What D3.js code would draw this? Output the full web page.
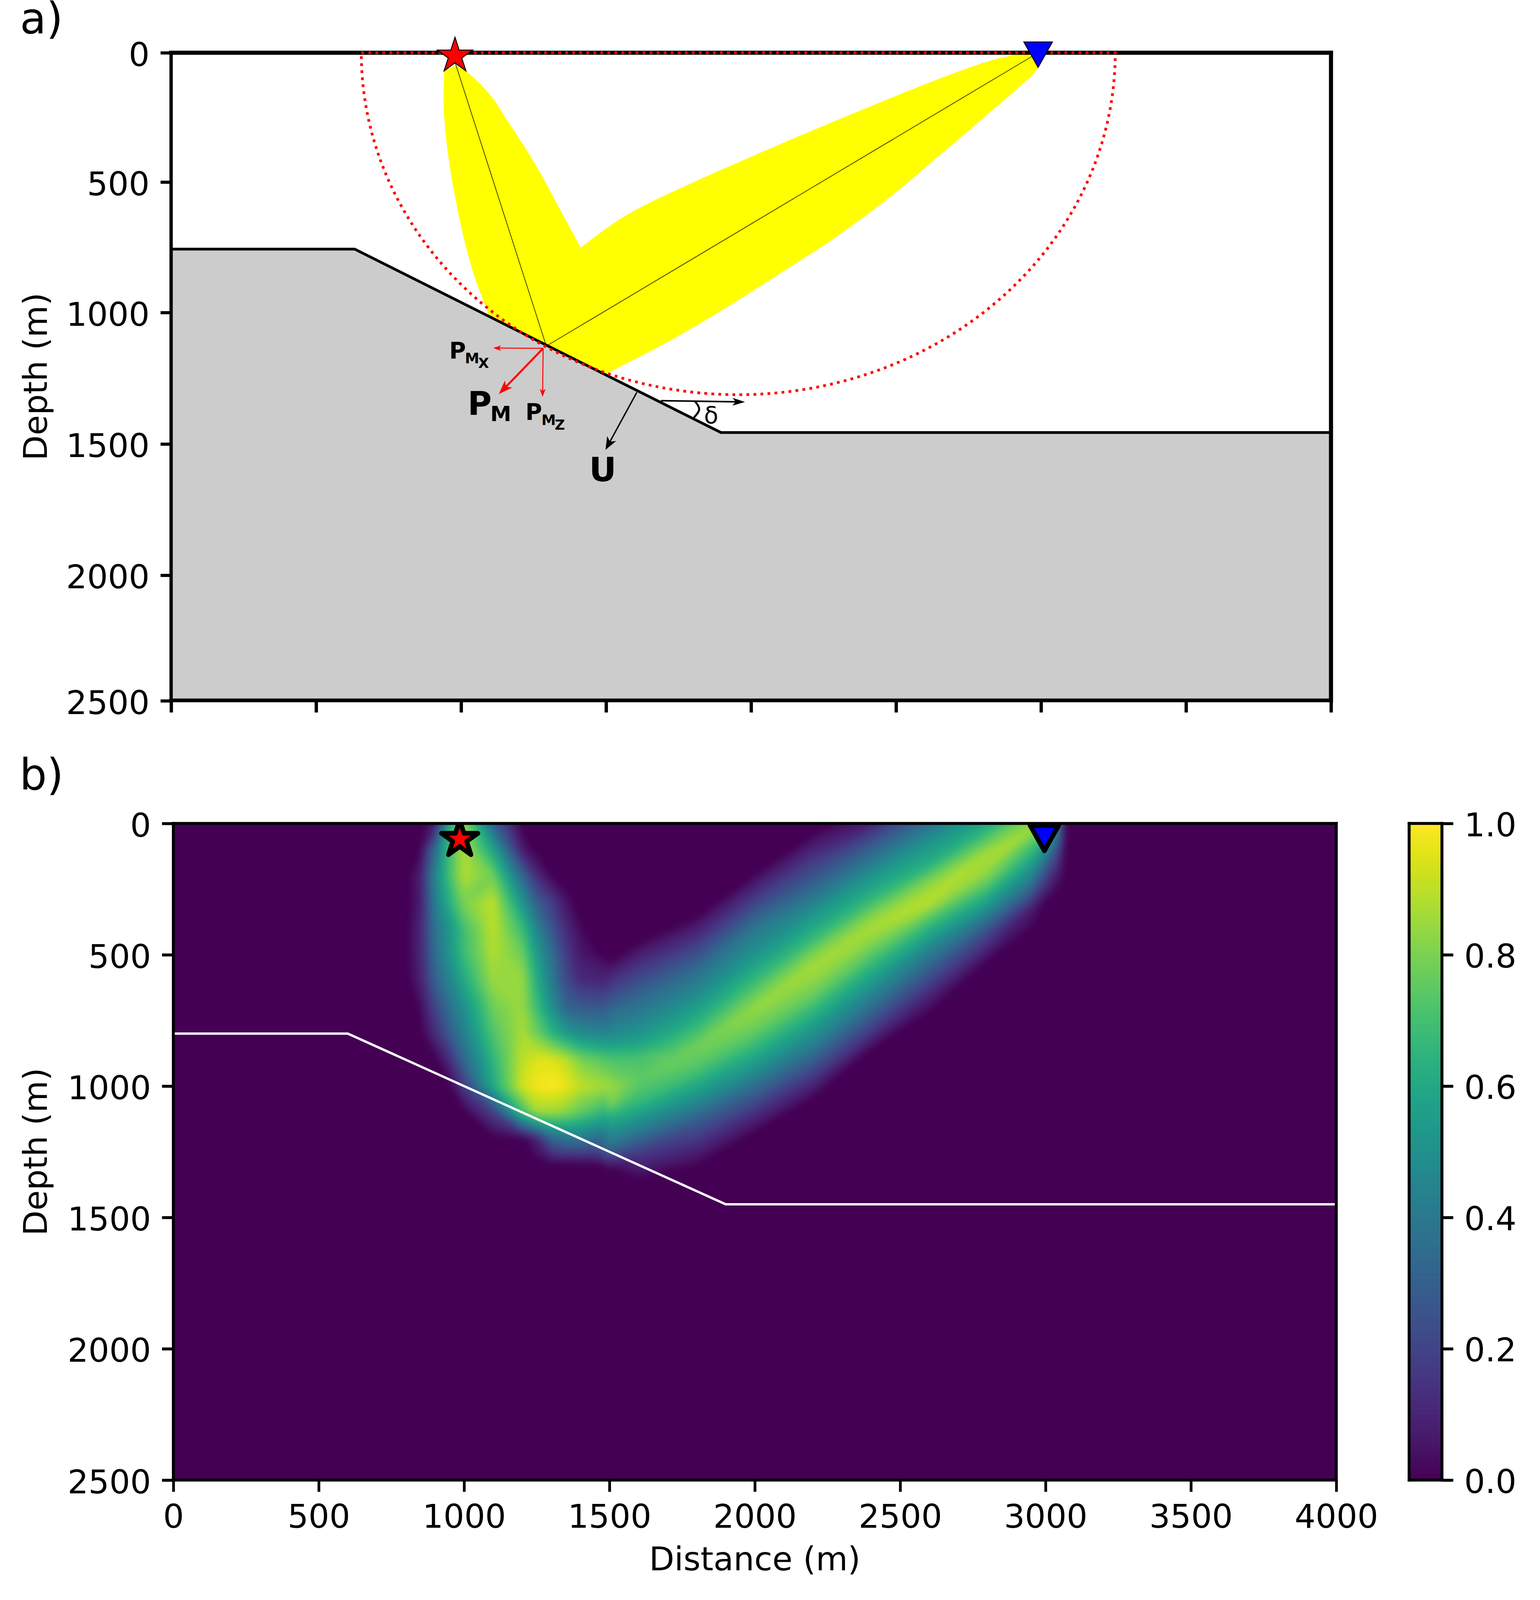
<!DOCTYPE html>
<html><head><meta charset="utf-8">
<script src="https://cdn.jsdelivr.net/npm/d3@7/dist/d3.min.js"></script>
<style>html,body{margin:0;padding:0;background:#fff}svg{display:block}text{font-family:"DejaVu Sans";fill:#000}</style>
</head><body><svg id="c" width="3942" height="4101" xmlns="http://www.w3.org/2000/svg"></svg>
<script>
// ---------- data ----------
const distanceTicks=[0,500,1000,1500,2000,2500,3000,3500,4000];
const depthTicks=[0,500,1000,1500,2000,2500];
const colorTicks=[0,0.2,0.4,0.6,0.8,1.0];
const interfaceA=[[0,758],[633,758],[1896,1466],[4000,1466]];
const interfaceB=[[0,800],[600,800],[1900,1450],[4000,1450]];
const yellowLeft=[[942,71],[940,210],[955,392],[986,594],[1021,767],[1058,902],[1089,989]];
const yellowFloor=[[1089,989],[1095,1015],[1513,1250],[1513,1232]];
const yellowLower=[[1513,1232],[1728,1107],[1917,982],[2107,847],[2296,709],[2484,553],[2643,403],[2804,249],[2926,131],[2973,83],[2991,57]];
const yellowUpper=[[2991,57],[2956,6],[2879,15],[2794,42],[2643,103],[2107,350],[1634,588],[1540,648],[1474,700],[1413,752]];
const yellowInner=[[1413,752],[1350,623],[1256,431],[1161,264],[1099,161],[1021,75],[981,48]];
const rayDown=[[972,12],[1293,1129]];
const rayUp=[[1299,1129],[2990,0]];
const fresnel={left:656,right:3256,rx:1300,ry:1320};
const sourceA=[979,12], receiverA=[2990,0], sourceB=[985,60], receiverB=[2996,56];
const pmOrigin=[1283,1141];
const arrowPMx=[pmOrigin,[1111,1140]];
const arrowPM=[pmOrigin,[1130,1318]];
const arrowPMz=[pmOrigin,[1281,1328]];
const arrowU=[[1606,1311],[1498,1533]];
const arrowH=[[1689,1343],[1979,1348]];
const deltaArc=[[1807,1346],[1821,1377],[1803,1408]];
// left limb and junction: values on a distance/depth grid
const heatXs=[700,800,850,900,950,1000,1100,1200,1250,1300,1350,1400,1500,1600,1700,1800];
const heatDepths=[0,100,200,300,400,500,600,700,800,900,1000,1100,1200,1300];
const heatRows=[
[0,0,0,.07,.6,.85,.3,0,0,0,0,0,0,0,0,0],
[0,0,.02,.35,.7,.88,.58,.07,0,0,0,0,0,0,0,0],
[0,0,.08,.45,.7,.88,.78,.33,.12,.02,0,0,0,0,0,0],
[0,0,.07,.42,.63,.8,.9,.52,.3,.18,.05,0,0,0,0,0],
[0,0,.1,.38,.52,.7,.9,.68,.45,.27,.12,.03,0,0,0,0],
[0,0,.1,.35,.52,.68,.88,.78,.55,.37,.18,.06,0,0,0,0],
[0,0,.08,.3,.45,.6,.85,.85,.62,.42,.22,.12,.1,0,0,0],
[0,0,.03,.2,.36,.5,.78,.85,.68,.5,.32,.28,.27,.35,0,0],
[0,0,0,.12,.28,.43,.72,.87,.78,.65,.55,.48,.45,.5,.6,0],
[0,0,0,0,.12,.33,.65,.9,.95,.95,.9,.8,.72,.72,.77,0],
[0,0,0,0,0,.18,.6,.93,.98,1,.97,.9,.85,.75,.62,0],
[0,0,0,0,0,0,.18,.68,.85,.85,.82,.75,.63,.47,.32,0],
[0,0,0,0,0,0,0,0,.1,.32,.38,.4,.32,.18,.12,0],
[0,0,0,0,0,0,0,0,0,0,0,0,.02,.01,0,0]];
// right limb: values by distance and by depth offset from the limb's bright ridge
const limbXs=[1400,1500,1600,1800,2000,2200,2400,2600,2800,2950,3000,3050,3070];
const limbRidge=[1070,1020,965,845,703,545,393,265,115,30,-5,-30,-45];
const limbOffsets=[-550,-500,-400,-300,-200,-100,-50,0,50,100,200,300,400,470,520];
const limbRows=[
[0,0,0,0,0,0,0,0,0,0,0,0,0],
[0,0,.03,0,.03,.02,0,0,.05,.1,.1,.05,0],
[0,.17,.18,.15,.2,.17,.07,.1,.15,.2,.2,.1,0],
[0,.35,.33,.33,.4,.33,.3,.3,.3,.4,.4,.2,0],
[0,.5,.47,.47,.52,.52,.5,.5,.45,.55,.55,.3,0],
[0,.72,.6,.62,.68,.68,.67,.65,.63,.7,.7,.35,0],
[0,.8,.68,.7,.77,.8,.79,.8,.75,.8,.82,.38,0],
[0,.85,.75,.78,.84,.86,.87,.87,.87,.85,.88,.38,0],
[0,.8,.72,.76,.8,.83,.83,.87,.86,.72,.72,.32,0],
[0,.62,.66,.7,.74,.78,.75,.72,.78,.62,.5,.25,0],
[0,.4,.42,.5,.57,.6,.56,.48,.52,.38,.22,.08,0],
[0,0,.15,.26,.35,.42,.37,.27,.22,.07,.02,0,0],
[0,0,0,.09,.13,.2,.16,.08,.03,0,0,0,0],
[0,0,0,0,.02,.06,.01,0,0,0,0,0,0],
[0,0,0,0,0,0,0,0,0,0,0,0,0]];

// ---------- layout ----------
const svg=d3.select('#c');
svg.append('rect').attr('width',3942).attr('height',4101).attr('fill','#fff');
const A={l:438,r:3407,t:135,b:1793}, B={l:443.7,r:3420.5,t:2108,b:3789}, CB={l:3607,r:3691,t:2108,b:3789};
const xa=d3.scaleLinear([0,4000],[A.l,A.r]), ya=d3.scaleLinear([0,2500],[A.t,A.b]);
const yaTicks=d3.scaleLinear(depthTicks,[135,466,800,1136.6,1472.6,1794]);
const xb=d3.scaleLinear([0,4000],[B.l,B.r]), yb=d3.scaleLinear([0,2500],[B.t,B.b]);
const cy=d3.scaleLinear([0,1],[CB.b,CB.t]);
const defs=svg.append('defs');
defs.append('clipPath').attr('id','clipA').append('rect').attr('x',A.l).attr('y',A.t).attr('width',A.r-A.l).attr('height',A.b-A.t);
defs.append('clipPath').attr('id','clipB').append('rect').attr('x',B.l).attr('y',B.t).attr('width',B.r-B.l).attr('height',B.b-B.t);
const soft=defs.append('filter').attr('id','soft').attr('filterUnits','userSpaceOnUse').attr('x',B.l-50).attr('y',B.t-100).attr('width',B.r-B.l+100).attr('height',B.b-B.t+200).attr('color-interpolation-filters','sRGB');
soft.append('feGaussianBlur').attr('stdDeviation',9);
const FS=84;
function styleAxis(g,w){g.select('.domain').remove();g.selectAll('.tick line').attr('stroke','#000').attr('stroke-width',w);g.selectAll('.tick text').attr('font-family','DejaVu Sans').attr('font-size',FS).attr('fill','#000');}
function spine(x1,y1,x2,y2,w){svg.append('line').attr('x1',x1).attr('y1',y1).attr('x2',x2).attr('y2',y2).attr('stroke','#000').attr('stroke-width',w).attr('stroke-linecap','square');}
function head(p,q,len,half,notch,col){
  const dx=q[0]-p[0],dy=q[1]-p[1],L=Math.hypot(dx,dy),ux=dx/L,uy=dy/L,nx=-uy,ny=ux;
  const bx=q[0]-ux*len,by=q[1]-uy*len,mx=q[0]-ux*(len-notch),my=q[1]-uy*(len-notch);
  svg.append('path').attr('d',`M${q}L${bx+nx*half},${by+ny*half}L${mx},${my}L${bx-nx*half},${by-ny*half}Z`).attr('fill',col);
}
function arrow(seg,w,len,half,notch,col){
  const p=[xa(seg[0][0]),ya(seg[0][1])],q=[xa(seg[1][0]),ya(seg[1][1])];
  const dx=q[0]-p[0],dy=q[1]-p[1],L=Math.hypot(dx,dy);
  svg.append('line').attr('x1',p[0]).attr('y1',p[1]).attr('x2',q[0]-dx/L*len*.5).attr('y2',q[1]-dy/L*len*.5).attr('stroke',col).attr('stroke-width',w);
  head(p,q,len,half,notch,col);
}
function label(parts,w){const t=svg.append('text').attr('font-family','DejaVu Sans').attr('font-weight',w||'normal');
  parts.forEach(o=>t.append('tspan').attr('x',o.x).attr('y',o.y).attr('font-size',o.s).text(o.t));return t;}

// ---------- panel a ----------
const gA=svg.append('g').attr('clip-path','url(#clipA)');
gA.append('path').attr('d',d3.area().x(d=>xa(d[0])).y0(ya(2500)).y1(d=>ya(d[1]))(interfaceA)).attr('fill','#cccccc');
const lineA=d3.line().x(d=>xa(d[0])).y(d=>ya(d[1]));
const smoothA=d3.line().curve(d3.curveCatmullRom).x(d=>xa(d[0])).y(d=>ya(d[1]));
const yellowPath=smoothA(yellowLeft)+lineA(yellowFloor).replace(/^M/,'L')+smoothA(yellowLower).replace(/^M/,'L')+smoothA(yellowUpper).replace(/^M/,'L')+smoothA(yellowInner).replace(/^M/,'L')+'Z';
gA.append('path').attr('d',yellowPath).attr('fill','#ffff00');
[rayDown,rayUp].forEach(r=>svg.append('path').attr('d',lineA(r)).attr('fill','none').attr('stroke','#000').attr('stroke-width',1.4));
gA.append('path').attr('d',lineA(interfaceA)).attr('fill','none').attr('stroke','#000').attr('stroke-width',7);
spine(A.l,A.t,A.r,A.t,10.5);spine(A.r,A.t,A.r,A.b,10.5);spine(A.l,A.b,A.r,A.b,9.5);spine(A.l,A.t,A.l,A.b,8.5);
svg.append('g').attr('transform',`translate(0,${A.b})`).call(d3.axisBottom(xa).tickValues(distanceTicks).tickSize(31).tickFormat('')).call(g=>styleAxis(g,8.5));
svg.append('g').attr('transform',`translate(${A.l},0)`).call(d3.axisLeft(yaTicks).tickValues(depthTicks).tickSize(27).tickPadding(28).tickFormat(d3.format('d'))).call(g=>{styleAxis(g,8);g.selectAll('.tick text').attr('dy',33);});
svg.append('path').attr('d',`M${xa(fresnel.left)},${ya(0)}L${xa(fresnel.right)},${ya(0)}A${xa(fresnel.rx)-xa(0)},${ya(fresnel.ry)-ya(0)} 0 0 1 ${xa(fresnel.left)},${ya(0)}`)
  .attr('fill','none').attr('stroke','#ff0000').attr('stroke-width',7).attr('stroke-dasharray','7 11');
arrow(arrowPMx,2.5,20,7,5,'#ff0000');
arrow(arrowPM,5,36,13,9,'#ff0000');
arrow(arrowPMz,2.5,20,7.5,5,'#ff0000');
arrow(arrowU,3.5,33,13,9,'#000');
arrow(arrowH,4,32,10,8,'#000');
svg.append('path').attr('d',d3.line().curve(d3.curveNatural).x(d=>xa(d[0])).y(d=>ya(d[1]))(deltaArc)).attr('fill','none').attr('stroke','#000').attr('stroke-width',5);
label([{t:'δ',x:1802,y:1084,s:60}]);
label([{t:'P',x:1150,y:918,s:58},{t:'M',x:1190,y:930,s:37},{t:'X',x:1224,y:942,s:36}],'bold');
label([{t:'P',x:1345,y:1074.5,s:58},{t:'M',x:1386,y:1087.5,s:37},{t:'Z',x:1420,y:1100,s:36}],'bold');
label([{t:'P',x:1197,y:1062,s:84},{t:'M',x:1255,y:1078,s:54}],'bold');
label([{t:'U',x:1508,y:1232,s:86}],'bold');
const star=d3.symbol().type(d3.symbolStar).size(47.5*47.5/0.8908130915);
svg.append('path').attr('d',star()).attr('transform',`translate(${xa(sourceA[0])},${ya(sourceA[1])})`).attr('fill','#ff0000').attr('stroke','#000').attr('stroke-width',2.5);
const tri=(hw,hh)=>`M${-hw},${-hh}L${hw},${-hh}L0,${hh}Z`;
svg.append('path').attr('d',tri(36.5,32.5)).attr('transform',`translate(${xa(receiverA[0])},${ya(receiverA[1])+5})`).attr('fill','#0000ff').attr('stroke','#000').attr('stroke-width',2.5);
label([{t:'a)',x:51,y:85,s:110}]);
svg.append('text').attr('transform',`translate(120,${(A.t+A.b)/2}) rotate(-90)`).attr('text-anchor','middle').attr('font-size',FS).attr('font-family','DejaVu Sans').text('Depth (m)');

// ---------- panel b ----------
const gB=svg.append('g').attr('clip-path','url(#clipB)');
gB.append('rect').attr('x',B.l).attr('y',B.t).attr('width',B.r-B.l).attr('height',B.b-B.t).attr('fill',d3.interpolateViridis(0));
const colAt=d3.scaleLinear(d3.range(heatXs.length),heatXs), rowAt=d3.scaleLinear(d3.range(heatDepths.length),heatDepths);
const gridPath=d3.geoPath(d3.geoTransform({point(i,j){this.stream.point(xb(colAt(i-.5)),yb(rowAt(j-.5)));}}));
const limbCol=d3.scaleLinear(d3.range(limbXs.length),limbXs), limbCrest=d3.scaleLinear(d3.range(limbXs.length),limbRidge), limbRow=d3.scaleLinear(d3.range(limbOffsets.length),limbOffsets);
const limbPath=d3.geoPath(d3.geoTransform({point(i,j){this.stream.point(xb(limbCol(i-.5)),yb(limbCrest(i-.5)+limbRow(j-.5)));}}));
const thresholds=d3.range(0.03,1.0,0.02);
const gH=gB.append('g').attr('filter','url(#soft)');
const gridBands=d3.contours().size([heatXs.length,heatDepths.length]).thresholds(thresholds)(heatRows.flat());
const limbBands=d3.contours().size([limbXs.length,limbOffsets.length]).thresholds(thresholds)(limbRows.flat());
thresholds.forEach((t,k)=>{
  const col=d3.interpolateViridis(t+0.01);
  gH.append('path').attr('d',gridPath(gridBands[k])).attr('fill',col).attr('stroke',col).attr('stroke-width',1);
  gH.append('path').attr('d',limbPath(limbBands[k])).attr('fill',col).attr('stroke',col).attr('stroke-width',1);
});
gB.append('path').attr('d',d3.line().x(d=>xb(d[0])).y(d=>yb(d[1]))(interfaceB)).attr('fill','none').attr('stroke','#fff').attr('stroke-width',6);
gB.append('path').attr('d',star.size(49*49/0.8908130915)()).attr('transform',`translate(${xb(sourceB[0])},${yb(sourceB[1])})`).attr('fill','#ff0000').attr('stroke','#000').attr('stroke-width',12).attr('stroke-linejoin','round');
gB.append('path').attr('d',tri(36.5,32.5)).attr('transform',`translate(${xb(receiverB[0])},${yb(receiverB[1])})`).attr('fill','#0000ff').attr('stroke','#000').attr('stroke-width',12).attr('stroke-linejoin','round');
spine(B.l,B.t,B.r,B.t,7.5);spine(B.r,B.t,B.r,B.b,7.5);spine(B.l,B.b,B.r,B.b,7.5);spine(B.l,B.t,B.l,B.b,7.5);
svg.append('g').attr('transform',`translate(0,${B.b})`).call(d3.axisBottom(xb).tickValues(distanceTicks).tickSize(30).tickFormat(d3.format('d'))).call(g=>{styleAxis(g,7);g.selectAll('.tick text').attr('y',122).attr('dy',0);});
svg.append('g').attr('transform',`translate(${B.l},0)`).call(d3.axisLeft(yb).tickValues(depthTicks).tickSize(29).tickPadding(28).tickFormat(d3.format('d'))).call(g=>{styleAxis(g,7.5);g.selectAll('.tick text').attr('dy',33);});
label([{t:'b)',x:50,y:2021,s:110}]);
svg.append('text').attr('transform',`translate(120,${(B.t+B.b)/2}) rotate(-90)`).attr('text-anchor','middle').attr('font-size',FS).attr('font-family','DejaVu Sans').text('Depth (m)');
svg.append('text').attr('x',(B.l+B.r)/2).attr('y',4020).attr('text-anchor','middle').attr('font-size',FS).attr('font-family','DejaVu Sans').text('Distance (m)');

// ---------- colour bar ----------
const gC=svg.append('g');
d3.range(0,256).forEach(i=>{const a=i/256,b=(i+1)/256;
  gC.append('rect').attr('x',CB.l).attr('width',CB.r-CB.l).attr('y',cy(b)).attr('height',cy(a)-cy(b)+0.6).attr('fill',d3.interpolateViridis((i+.5)/256));});
spine(CB.l,CB.t,CB.r,CB.t,7.5);spine(CB.r,CB.t,CB.r,CB.b,7.5);spine(CB.l,CB.b,CB.r,CB.b,7.5);spine(CB.l,CB.t,CB.l,CB.b,7.5);
svg.append('g').attr('transform',`translate(${CB.r},0)`).call(d3.axisRight(cy).tickValues(colorTicks).tickSize(29).tickPadding(28).tickFormat(d3.format('.1f'))).call(g=>{styleAxis(g,7.5);g.selectAll('.tick text').attr('dy',32);});
</script></body></html>
